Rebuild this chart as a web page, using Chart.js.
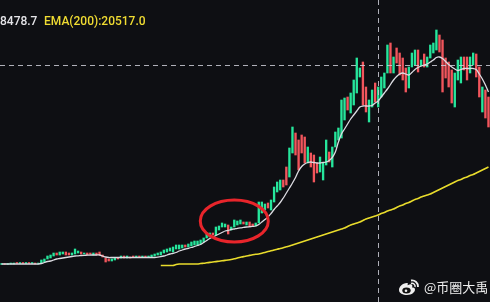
<!DOCTYPE html>
<html>
<head>
<meta charset="utf-8">
<script src="https://cdn.jsdelivr.net/npm/chart.js@4.4.1/dist/chart.umd.min.js"></script>
<style>
  html, body { margin: 0; padding: 0; background: #0e0f13; }
  #wrap { position: relative; width: 490px; height: 302px; overflow: hidden; background: #0e0f13; }
  canvas { position: absolute; left: 0; top: 0; }
  .lbl { position: absolute; top: 13px; font: 500 12px Roboto, "Liberation Sans", Arial, sans-serif; line-height: 16px; white-space: nowrap; }
  #wm { position: absolute; left: 398px; top: 277px; display: flex; align-items: center; gap: 4px; color: #eeeeee; font: 13px "Noto Sans CJK SC", sans-serif; }
</style>
</head>
<body>
<div id="wrap">
  <canvas id="kline" width="490" height="302"></canvas>
  <span class="lbl" style="left:0px;color:#e4e4e8;">8478.7</span>
  <span class="lbl" style="left:44px;color:#f0dc32;">EMA(200):20517.0</span>
  <div id="wm">
    <svg width="22" height="18" viewBox="0 0 22 18">
      <path d="M9 5 C4 5 1 9 1 12 C1 15.5 5 17 9 17 C14 17 17 14 17 11.5 C17 9.5 15 9.5 14 9.5 C15 7.5 14 5.8 11.5 6.5 L9.5 7.2 C10 5.5 10 5 9 5Z" fill="#eee"/>
      <ellipse cx="8.5" cy="12.5" rx="4.2" ry="3" fill="#111"/>
      <circle cx="8" cy="12.8" r="1.3" fill="#eee"/>
      <path d="M13 2.5 A6 6 0 0 1 20 9" stroke="#eee" stroke-width="1.8" fill="none"/>
      <path d="M13 5.5 A3 3 0 0 1 17 9" stroke="#eee" stroke-width="1.5" fill="none"/>
    </svg>
    <span>@币圈大禹</span>
  </div>
</div>
<script>
// candle open / close, one per bar
const opens = [
  9375, 9500, 9375, 9500, 9500, 9750, 9625, 9750, 9625, 9750, 9625, 9750, 9500,
  9750, 10000, 10750, 11000, 11500, 12250, 11750, 12000, 12500, 12250, 11750, 12000,
  12250, 12500, 12000, 12250, 12250, 11750, 12250, 12500, 11750, 11000, 10750, 10250,
  10500, 11000, 11000, 11500, 11000, 11250, 11500, 11250, 11500, 11250, 11500, 11250,
  11250, 11500, 11750, 11750, 12250, 12500, 12750, 12500, 13250, 13250, 13500, 14250,
  13750, 14000, 14250, 14250, 14500, 15000, 16000, 16250, 17250, 16750, 18000, 18750,
  18750, 19250, 18000, 18750, 19250, 19500, 20000, 19250, 20000, 19500, 19000, 19750,
  22250, 23000, 24750, 23000, 25000, 27500, 28000, 30500, 33750, 31250, 37250, 42250,
  40500, 41750, 41250, 34750, 37250, 36750, 34750, 32500, 30500, 34250, 37500, 33750,
  38750, 40500, 41000, 45500, 51250, 47250, 49250, 52250, 56250, 60000, 53750, 45000,
  48750, 54750, 48750, 51250, 53500, 57250, 64750, 57250, 63500, 62250, 61000, 58500,
  53500, 58750, 59250, 63000, 59000, 62000, 58750, 61000, 62250, 63000, 66750, 65500,
  61000, 60000, 58000, 48750, 55500, 54750, 61250, 61250, 57250, 59250, 62000, 58750,
  47500, 53000, 51250
];
const closes = [
  9500, 9375, 9500, 9625, 9750, 9625, 9875, 9625, 9750, 9625, 9750, 9500, 9750,
  10500, 10750, 11500, 11750, 12250, 11750, 12500, 12500, 11750, 11750, 12250, 13250,
  12750, 12000, 12250, 11750, 12000, 12250, 11750, 11750, 11250, 10000, 10250, 10750,
  11000, 10750, 11500, 11000, 11500, 11000, 11250, 11500, 11250, 11500, 11250, 11500,
  11750, 12000, 12250, 12500, 13000, 13250, 13500, 13750, 14250, 14250, 14250, 13750,
  14500, 15000, 15250, 15250, 15500, 16000, 17250, 17250, 16750, 18750, 19000, 19750,
  19500, 17000, 18750, 20500, 20250, 20500, 19500, 20000, 18750, 19000, 19750, 25000,
  25000, 24500, 23500, 25500, 28750, 30000, 30500, 28750, 29250, 38500, 43750, 36750,
  33000, 37250, 34750, 38750, 33750, 30000, 32250, 36250, 34750, 40500, 35000, 38750,
  42500, 43500, 50500, 51000, 48000, 52250, 55500, 61000, 58500, 49250, 47500, 50500,
  53000, 50000, 53750, 56250, 57250, 64250, 57250, 61250, 59750, 56750, 55500, 52500,
  58750, 62250, 63000, 57500, 60500, 58750, 61250, 64250, 64750, 68000, 62500, 52500,
  56000, 53750, 49750, 57250, 60500, 61250, 58000, 55500, 61250, 62250, 56250, 51250,
  53750, 46000, 43750
];
// short EMA (white)
const emaFast = [
  9500, 9500, 9500, 9500, 9500, 9500, 9500, 9500, 9500, 9500, 9500, 9500, 9500,
  9625, 9875, 10125, 10250, 10500, 10750, 10875, 11000, 11125, 11250, 11375, 11500,
  11550, 11625, 11675, 11700, 11750, 11750, 11750, 11750, 11500, 11250, 11125, 11125,
  11125, 11125, 11125, 11125, 11125, 11125, 11125, 11125, 11125, 11125, 11125, 11125,
  11125, 11125, 11200, 11325, 11500, 11750, 12000, 12175, 12375, 12750, 13000, 13250,
  13425, 13625, 13875, 14125, 14375, 14875, 15375, 15875, 16250, 16625, 17000, 17375,
  17750, 17875, 18125, 18250, 18425, 18550, 18650, 18750, 18825, 18900, 19000, 19375,
  20000, 20625, 21250, 22125, 23125, 24000, 24875, 26000, 27250, 28500, 29750, 31125,
  32750, 33875, 34500, 34875, 35000, 34875, 34750, 34750, 34875, 35000, 35375, 36125,
  37500, 40000, 42000, 43250, 44500, 45750, 46750, 47750, 48750, 49000, 49000, 49000,
  49125, 49750, 50250, 51250, 52250, 53250, 54375, 55500, 56375, 57000, 57250, 57000,
  56750, 57375, 58125, 58625, 59000, 59250, 59500, 60000, 60500, 61125, 61250, 60875,
  60125, 59375, 58750, 58250, 57875, 58125, 58375, 58375, 58375, 58375, 58125, 57000,
  55750, 54250, 52500
];
// EMA(200) (yellow), starts later
const ema200 = Array(52).fill(null).concat([
  9125, 9125, 9125, 9125, 9125, 9375, 9500, 9500, 9500,
  9500, 9500, 9500, 9500, 9625, 9700, 9800, 9900, 10000, 10100, 10200, 10300,
  10400, 10500, 10625, 10800, 11000, 11175, 11350, 11500, 11650, 11800, 11925, 12000,
  12200, 12400, 12600, 12800, 13000, 13200, 13375, 13575, 13800, 14000, 14250, 14500,
  14750, 15000, 15250, 15500, 15750, 16000, 16250, 16500, 16750, 17000, 17250, 17500,
  17750, 18000, 18250, 18500, 18875, 19250, 19500, 19750, 20000, 20375, 20750, 21000,
  21250, 21500, 21750, 22125, 22375, 22750, 23000, 23250, 23625, 24000, 24250, 24625,
  24875, 25250, 25625, 25875, 26250, 26500, 26750, 27000, 27375, 27750, 28125, 28500,
  28875, 29250, 29625, 30000, 30375, 30625, 31000, 31250, 31625, 31875, 32250, 32625,
  33000, 33375, 33750
]);

const crossIndex = 123;
const crossPrice = 59250;
const circleIndex = 76;
const circlePrice = 20250;

const upColor = '#26e69c';
const downColor = '#f2555c';

const candleColors = opens.map((o, i) => closes[i] >= o ? upColor : downColor);

const overlay = {
  id: 'overlay',
  afterDatasetsDraw(chart) {
    const c = chart.ctx;
    const sx = chart.scales.x, sy = chart.scales.y;
    const cx = sx.getPixelForValue(crossIndex);
    const cy = sy.getPixelForValue(crossPrice);
    c.save();
    c.strokeStyle = 'rgba(205,205,215,0.85)';
    c.lineWidth = 1;
    c.setLineDash([5, 4]);
    c.beginPath();
    c.moveTo(0, Math.round(cy) + 0.5);
    c.lineTo(chart.width, Math.round(cy) + 0.5);
    c.moveTo(Math.round(cx) + 0.5, 0);
    c.lineTo(Math.round(cx) + 0.5, chart.height);
    c.stroke();
    c.setLineDash([]);
    // red circle round the consolidation
    const ex = sx.getPixelForValue(circleIndex);
    const ey = sy.getPixelForValue(circlePrice);
    c.strokeStyle = '#e8252b';
    c.lineWidth = 3;
    c.beginPath();
    c.ellipse(ex, ey, 34, 21, 0, 0, Math.PI * 2);
    c.stroke();
    c.restore();
  }
};

const ctx = document.getElementById('kline').getContext('2d');
const idx = opens.map((_, i) => i);

new Chart(ctx, {
  type: 'bar',
  data: {
    datasets: [
      {
        type: 'line',
        data: idx.map(i => ({ x: i, y: emaFast[i] })),
        borderColor: '#dcdce2',
        borderWidth: 1.3,
        pointRadius: 0,
        tension: 0.35,
        order: 0
      },
      {
        type: 'line',
        data: idx.map(i => ({ x: i, y: ema200[i] })),
        borderColor: '#e9dc2c',
        borderWidth: 1.6,
        pointRadius: 0,
        tension: 0.3,
        spanGaps: false,
        order: 0
      },
      {
        type: 'bar',
        data: idx.map(i => ({ x: i, y: [opens[i], closes[i]] })),
        backgroundColor: candleColors,
        barThickness: 1.7,
        minBarLength: 1,
        order: 1
      }
    ]
  },
  options: {
    responsive: false,
    animation: false,
    layout: { padding: 0 },
    plugins: { legend: { display: false }, tooltip: { enabled: false } },
    scales: {
      x: { type: 'linear', display: false, min: -0.5, max: 159.5, offset: false },
      y: { display: false, min: 0, max: 75500 }
    }
  },
  plugins: [overlay]
});
</script>
</body>
</html>
